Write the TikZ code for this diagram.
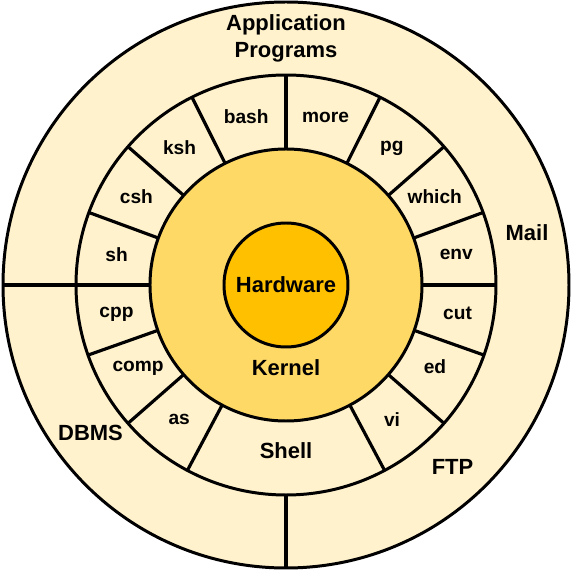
\documentclass[tikz,border=0pt]{standalone}
\usepackage{fontspec}
\setmainfont{Liberation Sans}
\definecolor{cream}{HTML}{FFF2CC}
\definecolor{kernelfill}{HTML}{FFD966}
\definecolor{hwfill}{HTML}{FFC000}
\tikzstyle{ring}=[draw=black,line width=1.7pt]
\tikzstyle{divider}=[draw=black,line width=1.8pt]
\tikzstyle{cmd}=[inner sep=0pt,font=\fontsize{10.9}{13}\selectfont\bfseries]
\tikzstyle{layertext}=[inner sep=0pt,align=center,font=\fontsize{12.5}{15.4}\selectfont\bfseries]
\newcommand{\cmdnode}{\node[cmd]}
\newcommand{\layernode}{\node[layertext]}

\begin{document}
\begin{tikzpicture}
\useasboundingbox (-5.72,-5.70) rectangle (5.70,5.70);
% % % % % % % % % % % % % % % % % % % % % % % % % % % % %
\fill[cream] (0,0) circle (5.66);
\draw[ring] (0,0) circle (5.66);
\draw[ring,fill=cream] (0,0) circle (4.2);
\draw[divider] (180:4.2) -- (180:5.66);
\draw[divider] (270:4.2) -- (270:5.66);
%*********************
\draw[divider] (0:2.72) -- (0:4.2);
\draw[divider] (20.2:2.72) -- (20.2:4.2);
\draw[divider] (41.2:2.72) -- (41.2:4.2);
\draw[divider] (63.4:2.72) -- (63.4:4.2);
\draw[divider] (90:2.72) -- (90:4.2);
\draw[divider] (116.6:2.72) -- (116.6:4.2);
\draw[divider] (138.8:2.72) -- (138.8:4.2);
\draw[divider] (159.8:2.72) -- (159.8:4.2);
\draw[divider] (180:2.72) -- (180:4.2);
\draw[divider] (199.5:2.72) -- (199.5:4.2);
\draw[divider] (221.2:2.72) -- (221.2:4.2);
\draw[divider] (242:2.72) -- (242:4.2);
\draw[divider] (298:2.72) -- (298:4.2);
\draw[divider] (318.8:2.72) -- (318.8:4.2);
\draw[divider] (340.5:2.72) -- (340.5:4.2);
%*********************
\draw[ring,fill=kernelfill] (0,0) circle (2.72);
\draw[ring,fill=hwfill] (0,0) circle (1.24);
% % % % % % % % % % % % % % % % % % % % % % % % % % % % %
\layernode (hardware) at (0,0) {Hardware};
\layernode (kernel) at (0,-1.66) {Kernel};
\layernode (shell) at (0,-3.32) {Shell};
\layernode (apps) at (0,4.94) {Application\\Programs};
\layernode (mail) at (4.82,1.04) {Mail};
\layernode (ftp) at (3.33,-3.64) {FTP};
\layernode (dbms) at (-3.91,-2.96) {DBMS};
%*********************
\cmdnode (more) at (76.7:3.44) {more};
\cmdnode (pg) at (52.3:3.46) {pg};
\cmdnode (which) at (30.7:3.46) {which};
\cmdnode (env) at (10.1:3.46) {env};
\cmdnode (bash) at (103.3:3.46) {bash};
\cmdnode (ksh) at (127.7:3.48) {ksh};
\cmdnode (csh) at (149.3:3.48) {csh};
\cmdnode (sh) at (169.9:3.44) {sh};
\cmdnode (cpp) at (189.75:3.44) {cpp};
\cmdnode (comp) at (209.5:3.40) {comp};
\cmdnode (as) at (231.6:3.44) {as};
\cmdnode (cut) at (350.5:3.48) {cut};
\cmdnode (ed) at (331.2:3.40) {ed};
\cmdnode (vi) at (308.2:3.43) {vi};
\end{tikzpicture}
\end{document}
